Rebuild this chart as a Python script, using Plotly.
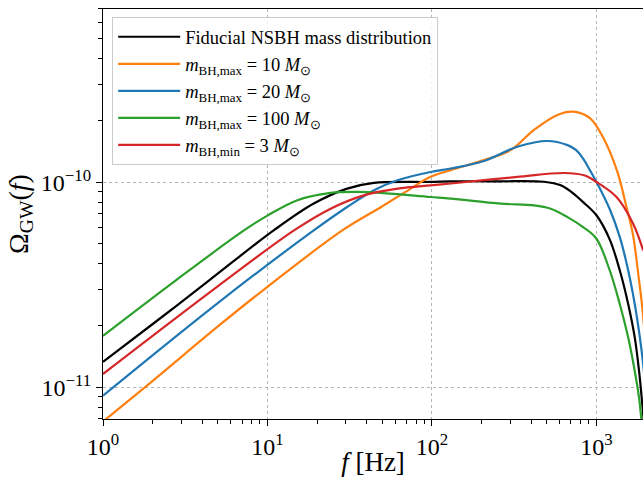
import plotly.graph_objects as go

# ---- data (f in Hz, Omega_GW dimensionless) ----
f_fid = [1, 2.13, 4.4, 10.9, 19.1, 30.5, 44.4, 98, 130, 250, 480, 607, 700, 830, 1000, 1205, 1387, 1560, 1710, 1816, 1901, 1990]
om_fid = [1.33e-11, 2.11e-11, 3.31e-11, 5.82e-11, 7.87e-11, 9.31e-11, 9.93e-11, 1.003e-10, 1.01e-10, 1.01e-10, 1.005e-10, 9.66e-11,
          9.0e-11, 8.0e-11, 6.9e-11, 5.25e-11, 3.71e-11, 2.54e-11, 1.746e-11, 1.197e-11, 8.22e-12, 5.5e-12]

f_10 = [1, 1.99, 5.19, 10, 28.5, 48.8, 70.8, 98, 130, 207, 301, 417, 579, 724, 916, 1104, 1336, 1525, 1671, 1791, 1901, 1990]
om_10 = [6.8e-12, 1.069e-11, 2.03e-11, 3.09e-11, 5.82e-11, 7.55e-11, 9.08e-11, 1.062e-10, 1.146e-10, 1.282e-10, 1.435e-10, 1.80e-10,
         2.13e-10, 2.21e-10, 2.05e-10, 1.637e-10, 1.132e-10, 7.53e-11, 5.50e-11, 3.62e-11, 2.44e-11, 1.6e-11]

f_20 = [1, 5.19, 19.1, 30.5, 44.4, 61.7, 98, 130, 207, 330, 504, 667, 753, 841, 912, 1000, 1205, 1387, 1560, 1710, 1837, 1923, 1990]
om_20 = [9.1e-12, 2.64e-11, 5.82e-11, 7.57e-11, 9.14e-11, 1.023e-10, 1.122e-10, 1.167e-10, 1.27e-10, 1.49e-10, 1.589e-10, 1.517e-10,
         1.435e-10, 1.282e-10, 1.146e-10, 1.003e-10, 7.38e-11, 5.40e-11, 3.71e-11, 2.54e-11, 1.746e-11, 1.297e-11, 9.5e-12]

f_100 = [1, 2.76, 7.19, 10.05, 15.2, 24.2, 35.2, 48.8, 98, 130, 262, 417, 527, 667, 830, 1000, 1205, 1387, 1560, 1710, 1816, 1875, 1950]
om_100 = [1.78e-11, 3.31e-11, 5.82e-11, 6.89e-11, 8.17e-11, 8.87e-11, 8.97e-11, 8.87e-11, 8.47e-11, 8.32e-11, 7.87e-11, 7.71e-11,
          7.43e-11, 6.76e-11, 6.04e-11, 5.30e-11, 3.71e-11, 2.54e-11, 1.746e-11, 1.197e-11, 8.87e-12, 6.95e-12, 4.5e-12]

f_min3 = [1, 5.05, 14.5, 24.2, 38.5, 61.7, 98, 130, 330, 635, 841, 1000, 1324, 1671, 1923]
om_min3 = [1.16e-11, 3.13e-11, 5.82e-11, 7.43e-11, 8.63e-11, 9.31e-11, 9.66e-11, 9.86e-11, 1.062e-10, 1.109e-10, 1.081e-10, 1.003e-10,
           8.47e-11, 6.28e-11, 4.65e-11]

names = [
    "Fiducial NSBH mass distribution",
    "<i>m</i><sub>BH,max</sub> = 10 <i>M</i><sub>⊙</sub>",
    "<i>m</i><sub>BH,max</sub> = 20 <i>M</i><sub>⊙</sub>",
    "<i>m</i><sub>BH,max</sub> = 100 <i>M</i><sub>⊙</sub>",
    "<i>m</i><sub>BH,min</sub> = 3 <i>M</i><sub>⊙</sub>",
]
colors = ["#000000", "#ff7f0e", "#1f77b4", "#2ca02c", "#d62728"]

x_tickvals = [1, 10, 100, 1000]
x_ticktext = ["10<sup>0</sup>", "10<sup>1</sup>", "10<sup>2</sup>", "10<sup>3</sup>"]
y_tickvals = [1e-11, 1e-10]
y_ticktext = ["10<sup>−11</sup>", "10<sup>−10</sup>"]

series = [(f_fid, om_fid), (f_10, om_10), (f_20, om_20), (f_100, om_100), (f_min3, om_min3)]

FONT = "Liberation Serif"

fig = go.Figure()
for (fx, oy), nm, c in zip(series, names, colors):
    fig.add_trace(go.Scatter(x=fx, y=oy, mode="lines", name=nm,
                             line=dict(color=c, width=2.2, shape="spline", smoothing=1.0)))

x_minor = [m * 10 ** k for k in range(0, 4) for m in range(2, 10)]
y_minor = [m * 10 ** k for k in range(-12, -9) for m in range(2, 10)]

axis_common = dict(
    type="log", showline=True, linecolor="black", linewidth=1.2, automargin=False,
    ticks="outside", ticklen=6, tickwidth=1, tickcolor="black",
    showgrid=True, gridcolor="#b5b5b5", griddash="dot", gridwidth=0.7,
    zeroline=False, tickfont=dict(family=FONT, size=24, color="black"),
)

fig.update_xaxes(
    **axis_common, range=[0, 3.283], mirror=True,
    tickmode="array", tickvals=x_tickvals, ticktext=x_ticktext,
    minor=dict(tickmode="array", tickvals=x_minor, ticks="outside", ticklen=3.5, tickwidth=1,
               tickcolor="black", showgrid=False),
    title=dict(text="<i>f</i> [Hz]", font=dict(family=FONT, size=27, color="black"), standoff=2),
)
fig.update_yaxes(
    **axis_common, range=[-11.155, -9.155],
    tickmode="array", tickvals=y_tickvals, ticktext=y_ticktext,
    minor=dict(tickmode="array", tickvals=y_minor, ticks="outside", ticklen=3.5, tickwidth=1,
               tickcolor="black", showgrid=False),
    title=dict(text="Ω<sub>GW</sub>(<i>f</i>)", font=dict(family=FONT, size=28, color="black"), standoff=4),
)

fig.update_layout(
    width=643, height=477,
    margin=dict(l=103, r=0, t=9, b=58),
    paper_bgcolor="white", plot_bgcolor="white",
    font=dict(family=FONT, color="black"),
    legend=dict(x=0.017, y=0.98, xanchor="left", yanchor="top",
                bgcolor="rgba(255,255,255,0.85)", bordercolor="#cccccc", borderwidth=1,
                font=dict(family=FONT, size=18.5, color="black"), tracegroupgap=0,
                itemwidth=62),
    showlegend=True,
)

fig.write_html("out.html")
